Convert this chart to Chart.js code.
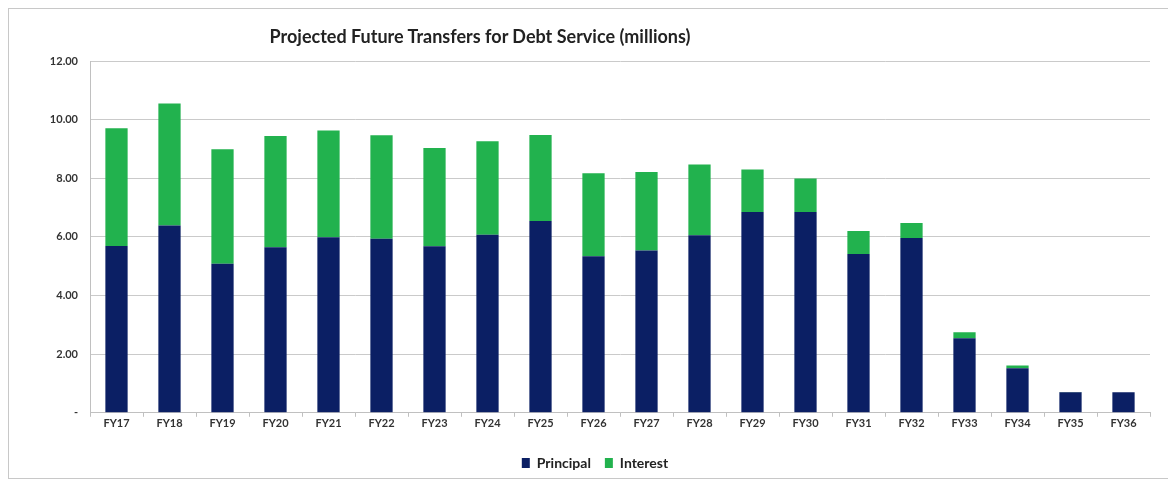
<!DOCTYPE html>
<html>
<head>
<meta charset="utf-8">
<script src="https://cdn.jsdelivr.net/npm/chart.js@4.4.1/dist/chart.umd.min.js"></script>
<style>
  html, body { margin: 0; padding: 0; background: #fff; overflow: hidden; }
  #wrap { position: relative; width: 1168px; height: 483px; overflow: hidden; }
  .edge { position: absolute; background: #c8c8c8; }
  #edge-top { left: 8px; top: 8px; width: 1160px; height: 1px; }
  #edge-bottom { left: 8px; top: 478px; width: 1160px; height: 1px; }
  #edge-left { left: 8px; top: 8px; width: 1px; height: 471px; }
  #title {
    position: absolute; left: 230px; top: 25px; width: 500px; text-align: center;
    font: bold 18px Lato, "Open Sans", sans-serif; color: #222;
  }
  #chart { position: absolute; left: 0; top: 0; }
</style>
</head>
<body>
<div id="wrap">
  <div class="edge" id="edge-top"></div>
  <div class="edge" id="edge-bottom"></div>
  <div class="edge" id="edge-left"></div>
  <canvas id="chart" width="1168" height="483"></canvas>
  <div id="title">Projected Future Transfers for Debt Service (millions)</div>
</div>
<script>
// Fiscal years and debt service split (millions)
const fiscalYears = ['FY17', 'FY18', 'FY19', 'FY20', 'FY21', 'FY22', 'FY23', 'FY24', 'FY25', 'FY26',
                     'FY27', 'FY28', 'FY29', 'FY30', 'FY31', 'FY32', 'FY33', 'FY34', 'FY35', 'FY36'];
const principal = [5.69, 6.39, 5.08, 5.65, 5.99, 5.94, 5.68, 6.07, 6.54, 5.34,
                   5.54, 6.06, 6.85, 6.85, 5.42, 5.96, 2.54, 1.52, 0.70, 0.70];
const interest = [4.02, 4.16, 3.91, 3.79, 3.64, 3.53, 3.35, 3.19, 2.94, 2.83,
                  2.67, 2.41, 1.45, 1.14, 0.78, 0.51, 0.21, 0.09, 0.01, 0.00];
const yTicks = [0, 2, 4, 6, 8, 10, 12];

const navy = '#0b1f64';
const green = '#22b24e';
const fontFamily = 'Lato, "Open Sans", sans-serif';

// nudge the legend a bit right of the canvas centre
const legendShift = {
    id: 'legendShift',
    afterLayout(chart) {
        chart.legend.left += 20;
        chart.legend.right += 20;
    }
};

const ctx = document.getElementById('chart').getContext('2d');
new Chart(ctx, {
    type: 'bar',
    data: {
        labels: fiscalYears,
        datasets: [
            { label: 'Principal', data: principal, backgroundColor: navy, borderWidth: 0 },
            { label: 'Interest', data: interest, backgroundColor: green, borderWidth: 0 }
        ]
    },
    plugins: [legendShift],
    options: {
        responsive: false,
        animation: false,
        devicePixelRatio: 1,
        layout: { padding: { left: 0, right: 18, top: 61, bottom: 3 } },
        datasets: { bar: { barPercentage: 0.42, categoryPercentage: 1 } },
        plugins: {
            title: { display: false },
            tooltip: { enabled: false },
            legend: {
                position: 'bottom',
                labels: {
                    boxWidth: 8,
                    boxHeight: 10,
                    padding: 14,
                    color: '#222',
                    font: { family: fontFamily, size: 14, weight: 'bold' }
                }
            }
        },
        scales: {
            x: {
                stacked: true,
                afterFit: (axis) => { axis.height += 12; },
                grid: { display: true, drawOnChartArea: false, tickLength: 4, color: '#c0c0c0' },
                border: { color: '#c0c0c0' },
                ticks: {
                    color: '#333',
                    padding: 0,
                    maxRotation: 0,
                    font: { family: fontFamily, size: 11, weight: 'bold' }
                }
            },
            y: {
                stacked: true,
                min: 0,
                max: 12,
                afterBuildTicks: (axis) => { axis.ticks = yTicks.map(v => ({ value: v })); },
                afterFit: (axis) => { axis.width = 90; },
                grid: { color: '#cacaca', drawTicks: false },
                border: { color: '#c0c0c0' },
                ticks: {
                    color: '#333',
                    padding: 12,
                    font: { family: fontFamily, size: 11, weight: 'bold' },
                    callback: (value) => value === 0 ? '-' : value.toFixed(2)
                }
            }
        }
    }
});
</script>
</body>
</html>
